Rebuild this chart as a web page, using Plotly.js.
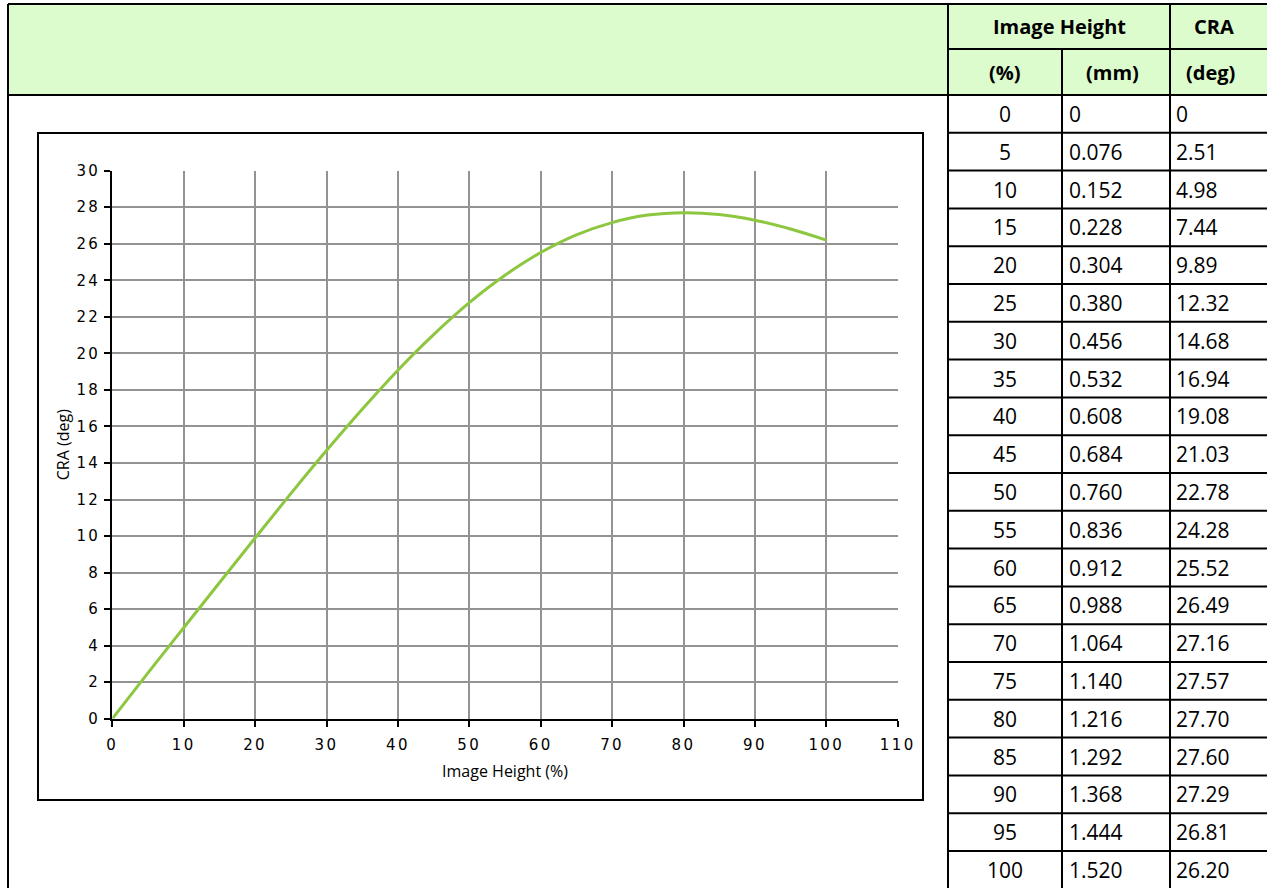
<!DOCTYPE html>
<html>
<head>
<meta charset="utf-8">
<script src="https://cdn.plot.ly/plotly-3.0.1.min.js"></script>
<style>
html,body{margin:0;padding:0;background:#fff;}
#chart{width:1267px;height:888px;}
.xtick text,.ytick text{letter-spacing:2.4px;}
</style>
</head>
<body>
<div id="chart"></div>
<script>
var imageHeightPct = [0,5,10,15,20,25,30,35,40,45,50,55,60,65,70,75,80,85,90,95,100];
var imageHeightMm  = [0,0.076,0.152,0.228,0.304,0.380,0.456,0.532,0.608,0.684,0.760,0.836,0.912,0.988,1.064,1.140,1.216,1.292,1.368,1.444,1.520];
var craDeg         = [0,2.51,4.98,7.44,9.89,12.32,14.68,16.94,19.08,21.03,22.78,24.28,25.52,26.49,27.16,27.57,27.70,27.60,27.29,26.81,26.20];
var headerTop      = ['Image Height','CRA'];
var headerSub      = ['(%)','(mm)','(deg)'];
var xAxisTitle     = 'Image Height (%)';
var yAxisTitle     = 'CRA (deg)';

// ---- layout helpers (pixel -> paper) ----
var W = 1267, H = 888;
function px(x){ return x / W; }
function py(y){ return 1 - y / H; }

var colEdges = [948, 1062, 1170, 1267];
var rowTop = 95, rowH = 37.8, hdrMid = 49, hdrTop = 4;
var green = '#ddfccd';

var shapes = [];
var annotations = [];
function line(x0,y0,x1,y1,w){
  shapes.push({type:'line', xref:'paper', yref:'paper', x0:px(x0), y0:py(y0), x1:px(x1), y1:py(y1),
    line:{color:'#000', width:w||2}});
}
// green header band
shapes.push({type:'rect', xref:'paper', yref:'paper', x0:px(8), y0:py(hdrTop), x1:px(W+2), y1:py(rowTop),
  fillcolor:green, line:{width:0}, layer:'below'});
// chart frame
shapes.push({type:'rect', xref:'paper', yref:'paper', x0:px(38), y0:py(133), x1:px(923), y1:py(800),
  fillcolor:'#fff', line:{color:'#000', width:2}, layer:'below'});
// outer borders
line(8, hdrTop, 8, H+2);
line(8, hdrTop, W+2, hdrTop);
line(8, rowTop, W+2, rowTop);
line(colEdges[0], hdrTop, colEdges[0], H+2);
line(colEdges[2], hdrTop, colEdges[2], H+2);
line(colEdges[1], hdrMid, colEdges[1], H+2);
line(colEdges[0], hdrMid, W+2, hdrMid);

var tblFont = {family:'Open Sans, Noto Sans, sans-serif', size:21, color:'#000'};
var hdrFont = {family:'Open Sans, Noto Sans, sans-serif', size:20, color:'#000', weight:700};
function txt(x, y, s, anchor, font){
  annotations.push({xref:'paper', yref:'paper', x:px(x), y:py(y), text:s, showarrow:false,
    xanchor:anchor, yanchor:'middle', font:font, borderpad:0, borderwidth:0});
}
// header texts
txt((colEdges[0]+colEdges[2])/2, (hdrTop+hdrMid)/2, headerTop[0], 'center', hdrFont);
txt(1214, (hdrTop+hdrMid)/2, headerTop[1], 'center', hdrFont);
txt((colEdges[0]+colEdges[1])/2, (hdrMid+rowTop)/2, headerSub[0], 'center', hdrFont);
txt((colEdges[1]+colEdges[2])/2-4, (hdrMid+rowTop)/2, headerSub[1], 'center', hdrFont);
txt(1210, (hdrMid+rowTop)/2, headerSub[2], 'center', hdrFont);

// data rows
for (var i = 0; i < imageHeightPct.length; i++) {
  var yc = rowTop + rowH*(i+0.5);
  txt((colEdges[0]+colEdges[1])/2, yc, String(imageHeightPct[i]), 'center', tblFont);
  txt(colEdges[1]+7, yc, imageHeightMm[i] === 0 ? '0' : imageHeightMm[i].toFixed(3), 'left', tblFont);
  txt(colEdges[2]+6, yc, craDeg[i] === 0 ? '0' : craDeg[i].toFixed(2), 'left', tblFont);
  if (i > 0) line(colEdges[0], rowTop + rowH*i, W+2, rowTop + rowH*i);
}

var tickFont = {family:'DejaVu Sans, sans-serif', size:15, color:'#000'};
var titleFont = {family:'Open Sans, Noto Sans, sans-serif', size:16, color:'#000'};

var trace = {
  type:'scatter', mode:'lines',
  x: imageHeightPct, y: craDeg,
  line:{color:'#8dc63f', width:3, shape:'spline', smoothing:1},
  hoverinfo:'x+y', showlegend:false
};

var layout = {
  width:W, height:H,
  margin:{l:0, r:0, t:0, b:0},
  paper_bgcolor:'#fff', plot_bgcolor:'rgba(0,0,0,0)',
  showlegend:false,
  xaxis:{
    domain:[px(112.3), px(897.7)], range:[0,110], dtick:10, tick0:0,
    showgrid:true, gridcolor:'#939393', gridwidth:2,
    showline:true, linecolor:'#000', linewidth:2, zeroline:false,
    ticks:'outside', ticklen:6, tickwidth:2, tickcolor:'#000',
    tickfont:tickFont, ticklabelstandoff:5,
    title:{text:xAxisTitle, font:titleFont, standoff:13},
    automargin:false, fixedrange:true
  },
  yaxis:{
    domain:[py(718.7), py(170.7)], range:[0,30], dtick:2, tick0:0,
    showgrid:true, gridcolor:'#939393', gridwidth:2,
    showline:true, linecolor:'#000', linewidth:2, zeroline:false,
    ticks:'outside', ticklen:6, tickwidth:2, tickcolor:'#000',
    tickfont:tickFont, ticklabelstandoff:1,
    title:{text:yAxisTitle, font:titleFont, standoff:3},
    automargin:false, fixedrange:true
  },
  shapes:shapes,
  annotations:annotations
};

Plotly.newPlot('chart', [trace], layout, {displayModeBar:false, staticPlot:true});
</script>
</body>
</html>
